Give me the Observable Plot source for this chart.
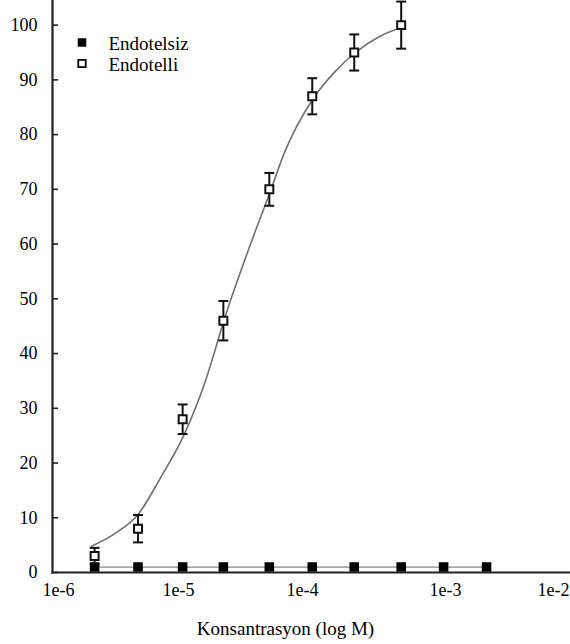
<!DOCTYPE html>
<html>
<head>
<meta charset="utf-8">
<script src="https://cdn.jsdelivr.net/npm/d3@7"></script>
<script src="https://cdn.jsdelivr.net/npm/@observablehq/plot@0.6"></script>
<style>
  body { margin: 0; background: #fff; }
  #chart svg, #chart svg text { font-family: 'Liberation Serif' !important; }
</style>
</head>
<body>
<div id="chart"></div>
<script>
// ---- data ----
const concentrations = [2e-6, 4.6e-6, 1.08e-5, 2.3e-5, 5.4e-5, 1.17e-4, 2.3e-4, 4.9e-4, 9.7e-4, 2.4e-3];
const endotelsizValues = [1, 1, 1, 1, 1, 1, 1, 1, 1, 1];
const endotelliConc = [2e-6, 4.6e-6, 1.08e-5, 2.3e-5, 5.4e-5, 1.17e-4, 2.3e-4, 4.9e-4];
const endotelliValues = [3, 8, 28, 46, 70, 87, 95, 100];
const endotelliErrors = [1.5, 2.5, 2.7, 3.6, 3.0, 3.3, 3.3, 4.3];
const fitConc = [1.88e-6, 2.99e-6, 4.64e-6, 7.08e-6, 1.10e-5, 1.65e-5, 2.39e-5, 3.81e-5, 5.52e-5, 7.03e-5, 1.19e-4, 1.70e-4, 2.35e-4, 3.51e-4, 4.84e-4];
const fitValues = [4.8, 7.2, 10.7, 17.3, 25, 35, 46.9, 60, 69.7, 76.3, 86.6, 91.6, 95.0, 98.0, 99.5];
const xTicks = [1e-6, 1e-5, 1e-4, 1e-3, 1e-2];
const xTickLabels = ["1e-6", "1e-5", "1e-4", "1e-3", "1e-2"];
const yTicks = [0, 10, 20, 30, 40, 50, 60, 70, 80, 90, 100];
const legendLabels = ["Endotelsiz", "Endotelli"];
const xLabel = "Konsantrasyon (log M)";

// ---- tables ----
const endotelsiz = concentrations.map((c, i) => ({c, v: endotelsizValues[i]}));
const endotelli = endotelliConc.map((c, i) => ({c, v: endotelliValues[i], e: endotelliErrors[i]}));
const fit = fitConc.map((c, i) => ({c, v: fitValues[i]}));

const cap = {
  draw(ctx, size) {
    const w = Math.sqrt(size) / 2;
    ctx.moveTo(-w, 0);
    ctx.lineTo(w, 0);
  }
};

const font = "Liberation Serif";

const chart = Plot.plot({
  width: 570,
  height: 644,
  marginLeft: 52,
  marginRight: 0,
  marginTop: 0,
  marginBottom: 72,
  style: "font-family: 'Liberation Serif'; font-size: 18px; color: #000; background: #fff;",
  x: {type: "log", domain: xTicks, range: [58, 178, 302, 445, 553]},
  y: {domain: [0, 104.5]},
  marks: [
    Plot.axisY({ticks: yTicks, tickSize: 6, dx: 6, tickPadding: 15, fontSize: 18, fontFamily: font, label: null, stroke: "#222", strokeWidth: 1.6}),
    Plot.axisX({ticks: xTicks, tickFormat: d => xTickLabels[xTicks.indexOf(d)], tickSize: 0, tickPadding: 11, fontSize: 18, fontFamily: font, label: null}),
    Plot.line(endotelsiz, {x: "c", y: "v", stroke: "#888", strokeWidth: 1.2}),
    Plot.line(fit, {x: "c", y: "v", curve: "monotone-x", stroke: "#707070", strokeWidth: 1.6}),
    Plot.dot(endotelsiz, {x: "c", y: "v", symbol: "square", fill: "#000", r: 5.4}),
    Plot.ruleX(endotelli, {x: "c", y1: d => d.v - d.e, y2: d => d.v + d.e, stroke: "#111", strokeWidth: 2}),
    Plot.dot(endotelli, {x: "c", y: d => d.v - d.e, symbol: cap, r: 5.6, stroke: "#111", strokeWidth: 2}),
    Plot.dot(endotelli, {x: "c", y: d => d.v + d.e, symbol: cap, r: 5.6, stroke: "#111", strokeWidth: 2}),
    Plot.dot(endotelli, {x: "c", y: "v", symbol: "square", fill: "#fff", stroke: "#111", strokeWidth: 2, r: 4.5}),
    Plot.frame({anchor: "left", stroke: "#222", strokeWidth: 2.2}),
    Plot.frame({anchor: "bottom", stroke: "#222", strokeWidth: 2.2}),
    // legend
    Plot.dot([legendLabels[0]], {frameAnchor: "top-left", dx: 29.5, dy: 42, symbol: "square", fill: "#000", r: 4.8}),
    Plot.dot([legendLabels[1]], {frameAnchor: "top-left", dx: 29.5, dy: 63, symbol: "square", fill: "#fff", stroke: "#000", strokeWidth: 1.8, r: 4.2}),
    Plot.text([legendLabels[0]], {text: d => d, frameAnchor: "top-left", dx: 56, dy: 43, textAnchor: "start", lineAnchor: "middle", fontSize: 19, fontFamily: font, fill: "#000"}),
    Plot.text([legendLabels[1]], {text: d => d, frameAnchor: "top-left", dx: 56, dy: 64, textAnchor: "start", lineAnchor: "middle", fontSize: 19, fontFamily: font, fill: "#000"}),
    // x label
    Plot.text([xLabel], {text: d => d, frameAnchor: "bottom-left", dx: 233, dy: 56, textAnchor: "middle", lineAnchor: "middle", fontSize: 19, fontFamily: font, fill: "#000"})
  ]
});

document.getElementById("chart").appendChild(chart);
</script>
</body>
</html>
